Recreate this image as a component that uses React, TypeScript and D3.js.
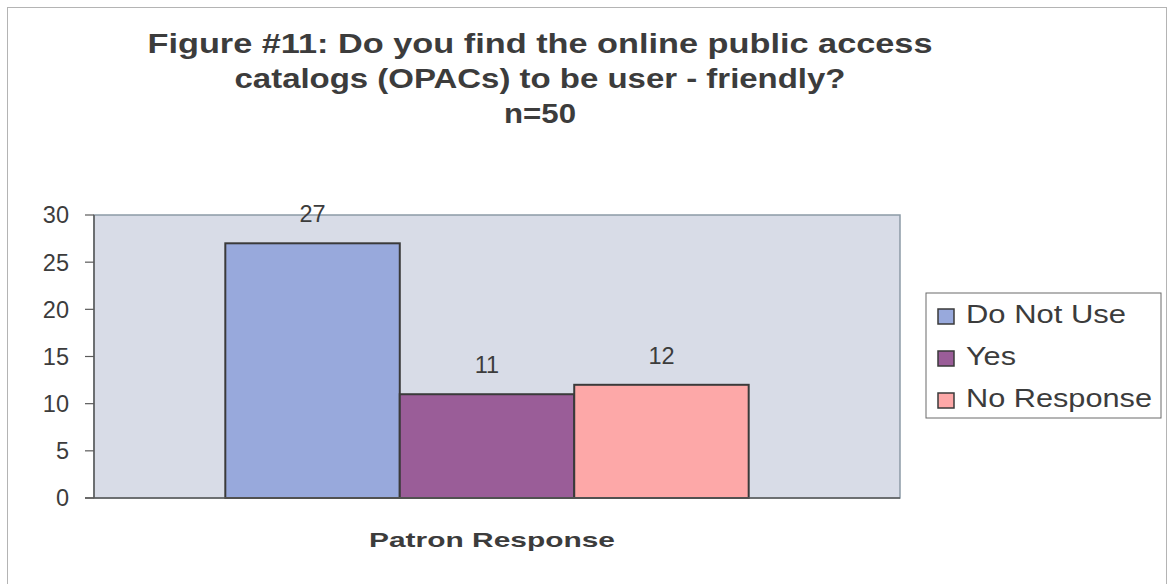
import React from "react";
import * as d3 from "d3";

const titleLines = [
  "Figure #11: Do you find the online public access",
  "catalogs (OPACs) to be user - friendly?",
  "n=50",
];
const categories = ["Patron Response"];
const seriesNames = ["Do Not Use", "Yes", "No Response"];
const seriesValues = [27, 11, 12];
const seriesColors = ["#98a9dc", "#9a5d98", "#fda8a8"];
const yTicks = [0, 5, 10, 15, 20, 25, 30];

const W = 1168;
const H = 584;
const plot = { left: 94, right: 900, top: 215, bottom: 498 };
const textColor = "#3c3c3c";
const font = "Arial, 'Liberation Sans', Helvetica, sans-serif";

export default function App() {
  const y = d3.scaleLinear().domain([0, 30]).range([plot.bottom, plot.top]);
  const xCat = d3
    .scaleBand<string>()
    .domain(categories)
    .range([plot.left, plot.right])
    .paddingInner(0)
    .paddingOuter(0.27);
  const xSeries = d3
    .scaleBand<string>()
    .domain(seriesNames)
    .range([0, xCat.bandwidth()]);
  const catX = (xCat(categories[0]) as number) - 10;

  const titleWidths = [785, 611, 72];
  const legendWidths = [160, 50, 186];

  return (
    <svg
      width={W}
      height={H}
      style={{ position: "absolute", left: 0, top: 0, background: "#fff" }}
      fontFamily={font}
    >
      <rect x={0} y={0} width={W} height={H} fill="#ffffff" />
      <rect
        x={7.5}
        y={7.5}
        width={1159}
        height={H + 10}
        fill="none"
        stroke="#b4b4b4"
        strokeWidth={1}
      />
      {titleLines.map((t, i) => (
        <text
          key={t}
          x={540}
          y={53 + i * 35}
          textAnchor="middle"
          fontSize={27}
          fontWeight="bold"
          fill={textColor}
          textLength={titleWidths[i]}
          lengthAdjust="spacingAndGlyphs"
        >
          {t}
        </text>
      ))}
      <rect
        x={plot.left}
        y={plot.top}
        width={plot.right - plot.left}
        height={plot.bottom - plot.top}
        fill="#d8dce7"
        stroke="#8c9aa6"
        strokeWidth={1.5}
      />
      {yTicks.map((t) => (
        <g key={t}>
          <line
            x1={plot.left - 9}
            x2={plot.left}
            y1={y(t)}
            y2={y(t)}
            stroke="#5a5a5a"
            strokeWidth={1.2}
          />
          <text
            x={69}
            y={y(t)}
            dy="0.36em"
            textAnchor="end"
            fontSize={23.5}
            fill={textColor}
          >
            {t}
          </text>
        </g>
      ))}
      <line
        x1={plot.left}
        x2={plot.left}
        y1={plot.top}
        y2={plot.bottom}
        stroke="#5a5a5a"
        strokeWidth={1.5}
      />
      {seriesNames.map((s, i) => {
        const x0 = catX + (xSeries(s) as number);
        const w = xSeries.bandwidth();
        return (
          <g key={s}>
            <rect
              x={x0}
              y={y(seriesValues[i])}
              width={w}
              height={plot.bottom - y(seriesValues[i])}
              fill={seriesColors[i]}
              stroke="#3a3a3a"
              strokeWidth={2}
            />
            <text
              x={x0 + w / 2}
              y={y(seriesValues[i]) - 21}
              textAnchor="middle"
              fontSize={23.5}
              fill={textColor}
            >
              {seriesValues[i]}
            </text>
          </g>
        );
      })}
      <line
        x1={plot.left - 9}
        x2={plot.right}
        y1={plot.bottom}
        y2={plot.bottom}
        stroke="#5a5a5a"
        strokeWidth={1.5}
      />
      <text
        x={492}
        y={547}
        textAnchor="middle"
        fontSize={21}
        fontWeight="bold"
        fill={textColor}
        textLength={246}
        lengthAdjust="spacingAndGlyphs"
      >
        {categories[0]}
      </text>
      <rect
        x={926}
        y={293}
        width={235}
        height={125}
        fill="#ffffff"
        stroke="#6a6a6a"
        strokeWidth={1}
      />
      {seriesNames.map((s, i) => (
        <g key={s}>
          <rect
            x={938}
            y={309 + i * 42}
            width={16}
            height={15}
            fill={seriesColors[i]}
            stroke="#3a3a3a"
            strokeWidth={1.5}
          />
          <text
            x={966}
            y={323 + i * 42}
            fontSize={25}
            fill={textColor}
            textLength={legendWidths[i]}
            lengthAdjust="spacingAndGlyphs"
          >
            {s}
          </text>
        </g>
      ))}
    </svg>
  );
}
